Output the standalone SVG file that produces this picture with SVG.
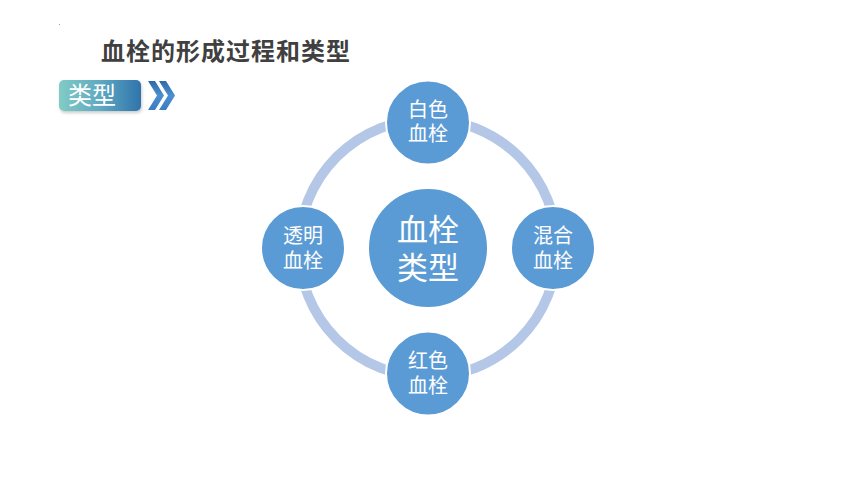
<svg xmlns="http://www.w3.org/2000/svg" width="860" height="484" viewBox="0 0 860 484">
<defs>
<linearGradient id="badge" x1="0" y1="0" x2="1" y2="0">
<stop offset="0" stop-color="#82cbc4"/>
<stop offset="0.5" stop-color="#5fa9c2"/>
<stop offset="1" stop-color="#2f74ac"/>
</linearGradient>
<linearGradient id="chev" x1="0" y1="0" x2="0" y2="1">
<stop offset="0" stop-color="#2e6aa8"/>
<stop offset="0.5" stop-color="#4a8fd0"/>
<stop offset="1" stop-color="#3a7cc0"/>
</linearGradient>
<filter id="sh" x="-10%" y="-20%" width="125%" height="150%">
<feDropShadow dx="1" dy="2" stdDeviation="1.5" flood-color="#000" flood-opacity="0.2"/>
</filter>
</defs>
<style>
.node{fill:#5b9bd5;stroke:#ffffff;stroke-width:2}
.lbl{font-family:"Noto Sans CJK SC","Noto Sans",sans-serif;fill:#ffffff;text-anchor:middle;font-size:20px}
.big{font-size:31px}
</style>
<rect width="860" height="484" fill="#ffffff"/>
<rect x="59" y="24" width="1" height="1" fill="#999999"/>
<text x="101" y="60" font-family="'Noto Sans CJK SC','Noto Sans',sans-serif" font-size="24" font-weight="bold" fill="#404040" letter-spacing="1">血栓的形成过程和类型</text>
<g id="badge-group">
<rect x="59" y="80" width="82" height="31" rx="5" fill="url(#badge)" filter="url(#sh)"/>
<text x="68" y="104" font-family="'Noto Sans CJK SC','Noto Sans',sans-serif" font-size="24" fill="#ffffff">类型</text>
<polygon points="148,81 155,81 164,95.5 155,110 148,110 157,95.5" fill="url(#chev)"/>
<polygon points="159,81 166,81 175,95.5 166,110 159,110 168,95.5" fill="url(#chev)"/>
</g>
<g id="connectors">
<circle cx="428" cy="248" r="129" fill="none" stroke="#b4c7e7" stroke-width="10"/>
</g>
<g id="center">
<circle class="node" cx="428" cy="248" r="60"/>
<text class="lbl big" x="428" y="241">血栓<tspan x="428" y="279">类型</tspan></text>
</g>
<g id="white">
<circle class="node" cx="428" cy="122.5" r="42"/>
<text class="lbl" x="428" y="116.5">白色<tspan x="428" y="141">血栓</tspan></text>
</g>
<g id="mixed">
<circle class="node" cx="553" cy="248" r="42"/>
<text class="lbl" x="553" y="243">混合<tspan x="553" y="267.5">血栓</tspan></text>
</g>
<g id="red">
<circle class="node" cx="428" cy="373.5" r="42"/>
<text class="lbl" x="428" y="368">红色<tspan x="428" y="392.5">血栓</tspan></text>
</g>
<g id="hyaline">
<circle class="node" cx="303" cy="248" r="42"/>
<text class="lbl" x="303" y="243">透明<tspan x="303" y="267.5">血栓</tspan></text>
</g>
</svg>
